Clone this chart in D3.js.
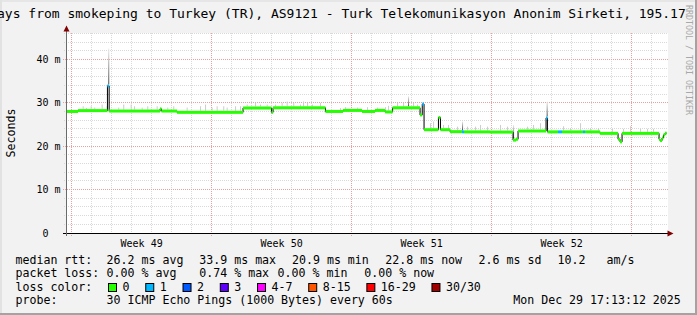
<!DOCTYPE html>
<html>
<head>
<meta charset="utf-8">
<script src="https://cdn.jsdelivr.net/npm/d3@7"></script>
<style>
html, body { margin: 0; padding: 0; background: #f2f2f2; }
svg { display: block; }
text { font-family: "DejaVu Sans Mono", monospace; white-space: pre; fill: #000; }
</style>
</head>
<body>
<svg id="chart"></svg>
<script>
let width = 697;
let height = 315;

// times are days of December 2025 (UTC), 1.0 = Dec 1 00:00
const medianDay = [-0.30, 0.32, 1.79, 1.875, 4.42, 4.49, 5.27, 8.57, 9.99, 10.07,
    12.69, 13.57, 14.52, 15.17, 15.67, 16.05, 17.42, 17.53, 17.62, 18.34,
    18.44, 18.92, 19.52, 19.62, 20.92, 22.07, 22.22, 22.32, 23.72, 23.79,
    24.32, 24.52, 25.57, 25.67, 26.42, 27.32, 27.42, 27.52, 29.37, 29.42,
    29.52, 29.59, 29.67, 29.75];
const medianMs = [28.0, 28.2, 33.9, 28.1, 28.6, 28.1, 27.8, 28.8, 27.8, 28.85,
    28.0, 28.25, 28.0, 28.25, 27.9, 28.85, 27.2, 29.7, 23.8, 26.6,
    23.8, 23.35, 23.3, 23.3, 23.25, 21.4, 21.6, 23.5, 26.5, 23.3,
    23.3, 23.3, 23.3, 23.3, 22.95, 21.6, 21.0, 22.95, 21.6, 21.3,
    21.9, 22.6, 23.0, 23.0];
const medianLoss = [0, 0, 1, 0, 0, 0, 0, 0, 0, 0,
    0, 0, 0, 0, 0, 0, 0, 1, 0, 0,
    0, 0, 1, 0, 0, 0, 0, 0, 1, 0,
    1, 0, 1, 0, 0, 0, 0, 0, 0, 0,
    0, 0, 0, 0];

// smoke spikes: time (December day) and highest ping (ms)
const smokeDay = [0.55, 0.72, 0.95, 1.13, 1.5, 1.75, 1.83, 2.33, 2.58, 2.95,
    3.12, 3.5, 3.78, 4.25, 4.78, 5.08, 5.75, 6.42, 6.67, 7.0,
    7.25, 7.58, 7.75, 8.17, 8.42, 8.75, 9.17, 9.42, 9.75, 10.17,
    10.5, 10.75, 11.08, 11.42, 11.57, 11.77, 12.02, 12.42, 13.42, 13.67,
    14.27, 14.77, 15.27, 15.67, 15.82, 16.27, 16.57, 16.82, 17.07, 17.27,
    17.92, 18.07, 18.57, 18.82, 19.27, 19.52, 19.77, 20.17, 20.42, 20.77,
    21.42, 21.77, 22.07, 22.77, 23.07, 23.42, 23.75, 24.57, 24.92, 25.42,
    25.92, 26.32, 27.02, 27.57, 27.92, 28.42, 28.77, 29.07];
const smokeTop = [29.2, 28.8, 29.2, 28.9, 29.6, 29.2, 42.5, 28.9, 29.6, 29.6,
    29.2, 28.9, 29.2, 29.2, 28.9, 29.2, 28.9, 29.2, 29.6, 28.9,
    29.2, 29.2, 28.9, 29.2, 29.2, 29.6, 30.0, 29.6, 29.6, 29.6,
    30.0, 30.3, 30.0, 29.6, 30.3, 30.0, 29.6, 30.0, 28.8, 29.0,
    28.9, 29.0, 28.9, 29.0, 29.3, 30.0, 30.0, 31.5, 30.0, 29.6,
    25.3, 25.7, 24.9, 24.9, 24.5, 25.7, 24.5, 24.5, 24.9, 24.5,
    24.9, 24.5, 24.9, 24.5, 24.9, 25.3, 30.3, 24.6, 24.2, 25.3,
    24.2, 24.2, 24.0, 24.0, 24.6, 24.0, 24.0, 24.0];

const yTicks = [0, 10, 20, 30, 40];
const weekLabels = ["Week 49", "Week 50", "Week 51", "Week 52"];
const lossLabels = ["0", "1", "2", "3", "4-7", "8-15", "16-29", "30/30"];
const lossColors = ["#26ff00", "#00b8ff", "#0059ff", "#5e00ff", "#ff00ff", "#ff5500", "#ff0000", "#a10000"];
const rttStats = ["26.2 ms avg", "33.9 ms max", "20.9 ms min", "22.8 ms now", "2.6 ms sd", "10.2   am/s"];
const lossStats = ["0.00 % avg", "0.74 % max", "0.00 % min", "0.00 % now"];
const titleText = "30 Days from smokeping to Turkey (TR), AS9121 - Turk Telekomunikasyon Anonim Sirketi, 195.17";
const probeText = "30 ICMP Echo Pings (1000 Bytes) every 60s";
const stampText = "Mon Dec 29 17:13:12 2025";

const dayLen = 864e5;
const day0 = Date.UTC(2025, 10, 30);
let toDate = d => new Date(day0 + d * dayLen);
let start = new Date(Date.UTC(2025, 10, 29, 17, 13, 12));
let end = new Date(Date.UTC(2025, 11, 29, 17, 13, 12));

let x = d3.scaleUtc().domain([start, end]).range([66, 666]);
let y = d3.scaleLinear().domain([0, 46.08]).range([233, 33]);
let crisp = v => Math.floor(v) + 0.5;

let svg = d3.select("#chart").attr("width", width).attr("height", height);

// background + 3d frame
svg.append("rect").attr("width", width).attr("height", height).attr("fill", "#f2f2f2");
svg.append("rect").attr("width", width).attr("height", 2).attr("fill", "#e6e6e6");
svg.append("rect").attr("width", 2).attr("height", height).attr("fill", "#e2e2e2");
svg.append("rect").attr("x", width - 2).attr("width", 2).attr("height", height).attr("fill", "#a3a3a3");
svg.append("rect").attr("y", height - 2).attr("width", width).attr("height", 2).attr("fill", "#a3a3a3");

// plot canvas
svg.append("rect").attr("x", 67).attr("y", 33).attr("width", 601).attr("height", 200).attr("fill", "#ffffff");

// grid
let grid = svg.append("g").attr("fill", "none").attr("stroke-dasharray", "1,1");
let sundays = d3.utcSunday.range(start, end);
let days = d3.utcDay.range(start, end).filter(d => d.getUTCDay() !== 0);
grid.selectAll(".xmin").data(days).enter().append("line")
    .attr("x1", d => crisp(x(d))).attr("x2", d => crisp(x(d)))
    .attr("y1", 33).attr("y2", 235)
    .attr("stroke", "#d9d9d9");
let yMinor = d3.range(2, 47, 2).filter(v => v % 10 !== 0);
grid.selectAll(".ymin").data(yMinor).enter().append("line")
    .attr("x1", 64).attr("x2", 668)
    .attr("y1", d => crisp(y(d))).attr("y2", d => crisp(y(d)))
    .attr("stroke", "#d9d9d9");
grid.selectAll(".xmaj").data(sundays).enter().append("line")
    .attr("x1", d => crisp(x(d))).attr("x2", d => crisp(x(d)))
    .attr("y1", 33).attr("y2", 236)
    .attr("stroke", "#ec9f9f");
grid.selectAll(".ymaj").data(yTicks.filter(v => v > 0)).enter().append("line")
    .attr("x1", 63).attr("x2", 668)
    .attr("y1", d => crisp(y(d))).attr("y2", d => crisp(y(d)))
    .attr("stroke", "#ec9f9f");

// data layer
svg.append("clipPath").attr("id", "plotclip")
    .append("rect").attr("x", 67).attr("y", 33).attr("width", 600).attr("height", 200);
let plot = svg.append("g").attr("clip-path", "url(#plotclip)");

let grad = svg.append("defs").append("linearGradient").attr("id", "smokegrad")
    .attr("x1", 0).attr("y1", 0).attr("x2", 0).attr("y2", 1);
grad.append("stop").attr("offset", "0%").attr("stop-color", "#ececec");
grad.append("stop").attr("offset", "100%").attr("stop-color", "#4a4a4a");

let medianAt = function(d) {
    let i = d3.bisectRight(medianDay, d) - 1;
    return medianMs[Math.max(0, i)];
};

let smoke = smokeDay.map((d, i) => ({ d: d, top: smokeTop[i], med: medianAt(d) }));
plot.selectAll(".smoke").data(smoke).enter().append("rect")
    .attr("x", s => x(toDate(s.d)))
    .attr("width", 1)
    .attr("y", s => y(s.top))
    .attr("height", s => Math.max(0, y(s.med) - 1.5 - y(s.top)))
    .attr("fill", s => (y(s.med) - y(s.top) > 10 ? "url(#smokegrad)" : "#cccccc"));

let med = medianDay.map((d, i) => ({ d: d, v: medianMs[i], loss: medianLoss[i] }));
let line = d3.line().curve(d3.curveStepAfter)
    .x(p => x(toDate(p.d))).y(p => y(p.v));
plot.append("path").datum(med).attr("d", line)
    .attr("fill", "none").attr("stroke", "#000").attr("stroke-width", 1);

plot.selectAll(".band").data(med.slice(0, -1)).enter().append("rect")
    .attr("x", (p, i) => x(toDate(p.d)))
    .attr("width", (p, i) => x(toDate(med[i + 1].d)) - x(toDate(p.d)))
    .attr("y", p => y(p.v) - 1.5)
    .attr("height", 3)
    .attr("fill", p => lossColors[p.loss]);

// axes
svg.append("line").attr("x1", 63).attr("x2", 668).attr("y1", 233.5).attr("y2", 233.5)
    .attr("stroke", "#000");
svg.append("line").attr("x1", 66.5).attr("x2", 66.5).attr("y1", 236).attr("y2", 29)
    .attr("stroke", "#6a6a6a");
svg.append("path").attr("d", "M63.5,31.5 L66.5,25.5 L69.5,31.5 Z").attr("fill", "#800000");
svg.append("path").attr("d", "M667.5,230.5 L673.5,233.5 L667.5,236.5 Z").attr("fill", "#800000");

// y labels
svg.selectAll(".ylab").data(yTicks).enter().append("text")
    .attr("x", 60.5).attr("y", d => crisp(y(d)) + 3.5)
    .attr("text-anchor", "end").style("font-size", "10px")
    .text(d => (d === 0 ? "0  " : d + " m"));

// week labels
svg.selectAll(".wlab").data(weekLabels).enter().append("text")
    .attr("x", (w, i) => x(d3.utcHour.offset(sundays[i], 84)))
    .attr("y", 246.5)
    .attr("text-anchor", "middle").style("font-size", "10px")
    .text(w => w);

svg.append("text").attr("transform", "translate(15,133) rotate(-90)")
    .attr("text-anchor", "middle").style("font-size", "11.6px").text("Seconds");

// title and watermark
svg.append("text").attr("x", -34.3).attr("y", 18).style("font-size", "13px").text(titleText);
svg.append("text").attr("transform", "translate(685.5,5) rotate(90)")
    .style("font-size", "8.3px").style("fill", "#a8a8a8").text("RRDTOOL / TOBI OETIKER");

// legend
let legend = svg.append("g").style("font-size", "11.6px");
let rows = [263.5, 277, 290.6, 304.2];
["median rtt:", "packet loss:", "loss color:", "probe:"].forEach((t, i) => {
    legend.append("text").attr("x", 15.5).attr("y", rows[i]).text(t);
});
let rttX = [106.6, 199.3, 292, 385.3, 478.6, 557.6];
rttStats.forEach((t, i) => legend.append("text").attr("x", rttX[i]).attr("y", rows[0]).text(t));
let lossX = [106.6, 199.3, 277.6, 364.3];
lossStats.forEach((t, i) => legend.append("text").attr("x", lossX[i]).attr("y", rows[1]).text(t));

let cw = 6.96;
let bx = 108;
lossLabels.forEach((t, i) => {
    legend.append("rect").attr("x", bx + 0.5).attr("y", 283.5).attr("width", 8).attr("height", 8)
        .attr("fill", lossColors[i]).attr("stroke", "#000").attr("stroke-width", 1);
    legend.append("text").attr("x", bx + 14.5).attr("y", rows[2]).text(t);
    bx += 15 + cw * t.length + 15.3;
});

legend.append("text").attr("x", 106.6).attr("y", rows[3]).text(probeText);
legend.append("text").attr("x", 680.8).attr("y", rows[3]).attr("text-anchor", "end").text(stampText);
</script>
</body>
</html>
